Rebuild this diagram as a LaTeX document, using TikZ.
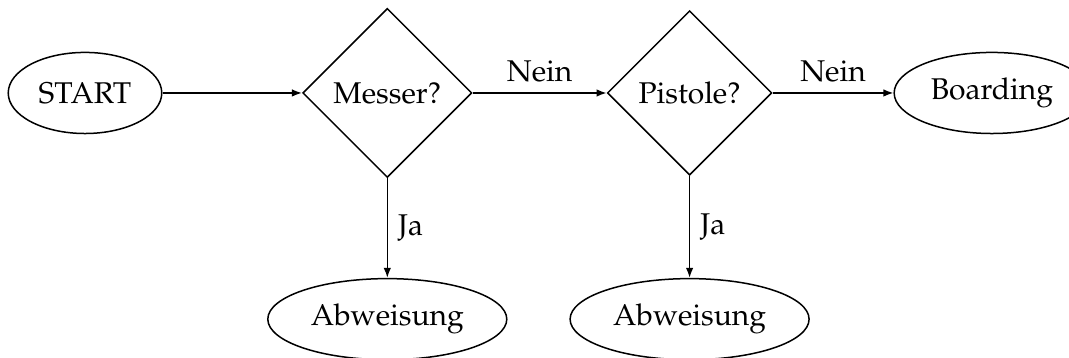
\documentclass[tikz,border=0pt,12pt]{standalone}
\usepackage[T1]{fontenc}
\usepackage{mathpazo}
\usetikzlibrary{shapes.geometric}
\usetikzlibrary{arrows.meta}

\begin{document}
\begin{tikzpicture}[	scale=1.0, >={Latex[length=4pt,width=3pt]}, semithick,
				terminal/.style={draw,ellipse,minimum height=1.14cm,inner xsep=3.2pt},
				decision/.style={draw,diamond},
				flow/.style={->}]

	\def\dx{4.25}
	\def\dy{3.18}

	\useasboundingbox (-1.195,-3.726) rectangle (13.834,1.307);

	% Nodes
	\node[terminal] (start) at (0,0) {START};
	\node[decision] (messer) at (\dx,0) {Messer?};
	\node[decision] (pistole) at (2*\dx,0) {Pistole?};
	\node[terminal] (boarding) at (3*\dx,0) {Boarding};
	\node[terminal] (abw1) at (\dx,-\dy) {Abweisung};
	\node[terminal] (abw2) at (2*\dx,-\dy) {Abweisung};

	% Connections
	\draw[flow] (start) -- (messer);
	\draw[flow] (messer) -- node[above] {Nein} (pistole);
	\draw[flow] (pistole) -- node[above] {Nein} (boarding);
	\draw[flow] (messer) -- node[right] {Ja} (abw1);
	\draw[flow] (pistole) -- node[right] {Ja} (abw2);

\end{tikzpicture}
\end{document}
